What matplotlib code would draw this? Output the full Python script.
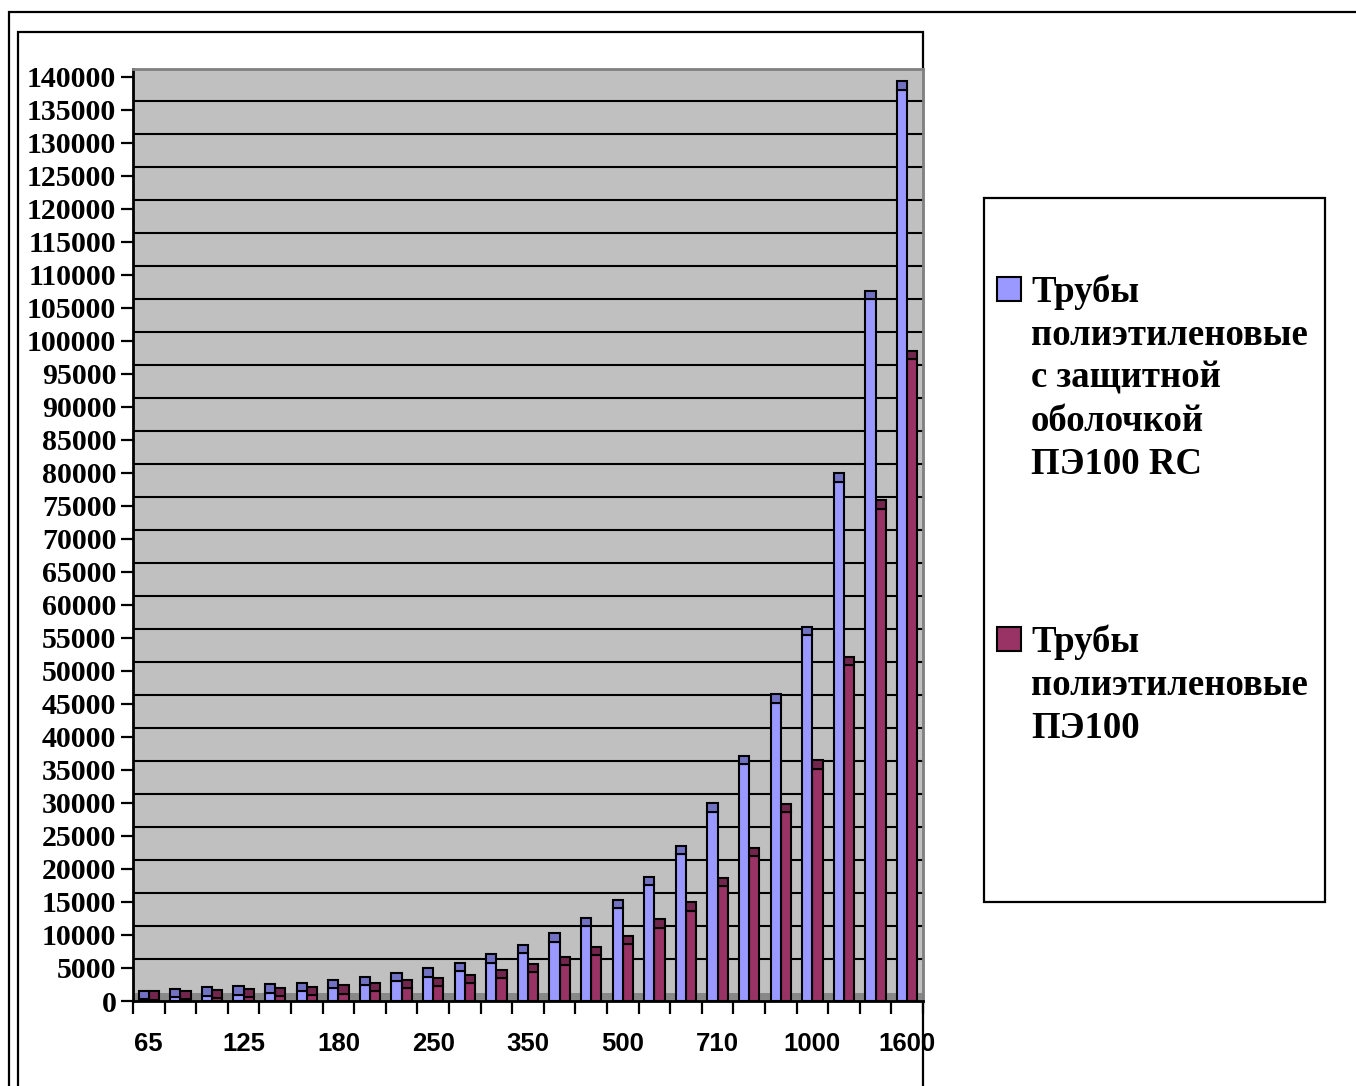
import matplotlib
matplotlib.use('Agg')
import matplotlib.pyplot as plt
from matplotlib.patches import Rectangle
import numpy as np

# ---------------- data ----------------
categories = ['65', '90', '110', '125', '140', '160', '180', '200', '225', '250',
              '280', '315', '350', '400', '450', '500', '560', '630', '710', '800',
              '900', '1000', '1200', '1400', '1600']
pe100_rc = [300, 600, 800, 950, 1250, 1550, 1900, 2400, 3000, 3700,
            4500, 5800, 7300, 9000, 11400, 14100, 17500, 22300, 28700, 35900,
            45200, 55400, 78700, 106300, 138100]
pe100 = [200, 300, 400, 600, 700, 900, 1100, 1500, 1900, 2200,
         2700, 3500, 4400, 5400, 7000, 8600, 11100, 13700, 17400, 22000,
         28600, 35200, 50900, 74600, 97300]
legend_rc = ['Трубы', 'полиэтиленовые', 'с защитной', 'оболочкой', 'ПЭ100 RC']
legend_pe = ['Трубы', 'полиэтиленовые', 'ПЭ100']
y_ticks = list(range(0, 140001, 5000))
label_every = 3

# ---------------- styles ----------------
W, H = 1356, 1086
blue, blue_cap = '#9999FF', '#7272C4'
red, red_cap = '#993366', '#72264D'
bg_gray = '#C0C0C0'
floor_gray = '#888888'
cap_h = 1250
grid_offset = 1300

fig = plt.figure(figsize=(W / 100, H / 100), dpi=100)


def fx(px):
    return px / W


def fy(py):
    return 1 - py / H


# frames
fig.patches.append(Rectangle((fx(9), fy(1100)), fx(1400) - fx(9), fy(12) - fy(1100),
                             transform=fig.transFigure, fill=False, lw=1.6,
                             edgecolor='black', zorder=-2))
fig.patches.append(Rectangle((fx(18), fy(1100)), fx(923) - fx(18), fy(32) - fy(1100),
                             transform=fig.transFigure, fill=False, lw=1.6,
                             edgecolor='black', zorder=-2))

ax = fig.add_axes([fx(133), fy(1001), (923 - 133) / W, (1001 - 69) / H])
ax.set_facecolor(bg_gray)
ax.set_zorder(0)

n = len(categories)
x = np.arange(n)
ax.set_xlim(-0.5, n - 0.5)
ax.set_ylim(0, 141212)

# floor and gridlines (back plane)
ax.axhspan(0, cap_h, color=floor_gray, zorder=1, lw=0)
for v in y_ticks[1:-1]:
    ax.axhline(v + grid_offset, color='black', lw=1.5, zorder=1.5)

bw = 0.32
rc = np.array(pe100_rc)
pe = np.array(pe100)
ax.bar(x - 0.16, rc, width=bw, color=blue, edgecolor='black', lw=1.5, zorder=3)
ax.bar(x - 0.16, cap_h, bottom=rc, width=bw, color=blue_cap, edgecolor='black', lw=1.5, zorder=3)
ax.bar(x + 0.16, pe, width=bw, color=red, edgecolor='black', lw=1.5, zorder=2.9)
ax.bar(x + 0.16, cap_h, bottom=pe, width=bw, color=red_cap, edgecolor='black', lw=1.5, zorder=2.9)

# spines
for s in ['left', 'bottom']:
    ax.spines[s].set_color('black')
    ax.spines[s].set_linewidth(2)
for s in ['top', 'right']:
    ax.spines[s].set_color('#808080')
    ax.spines[s].set_linewidth(2)

# y axis
ax.set_yticks(y_ticks)
ax.set_yticklabels([str(v) for v in y_ticks], fontfamily='Liberation Serif',
                   fontweight='bold', fontsize=21.5)
ax.tick_params(axis='y', direction='out', length=9, width=1.6, pad=3, colors='black')

# x axis
ax.set_xticks(np.arange(-0.5, n, 1), minor=True)
ax.set_xticks(x[::label_every])
ax.set_xticklabels(categories[::label_every], fontfamily='Liberation Sans',
                   fontweight='bold', fontsize=18.5)
ax.tick_params(axis='x', which='minor', direction='out', length=9.5, width=1.6)
ax.tick_params(axis='x', which='major', length=0, pad=22)

# legend
fig.patches.append(Rectangle((fx(984), fy(902)), fx(1325) - fx(984), fy(198) - fy(902),
                             transform=fig.transFigure, fill=False, lw=1.6,
                             edgecolor='black'))


def legend_entry(lines, color, sq_top, base0):
    fig.patches.append(Rectangle((fx(997), fy(sq_top + 24)), 24 / W, 24 / H,
                                 transform=fig.transFigure, facecolor=color,
                                 edgecolor='black', lw=1.5))
    for i, t in enumerate(lines):
        fig.text(fx(1031), fy(base0 + 43 * i), t, fontfamily='Liberation Serif',
                 fontweight='bold', fontsize=26.5, va='baseline', ha='left')


legend_entry(legend_rc, blue, 277, 302)
legend_entry(legend_pe, red, 627, 652)

fig.savefig('out.png', dpi=100)
